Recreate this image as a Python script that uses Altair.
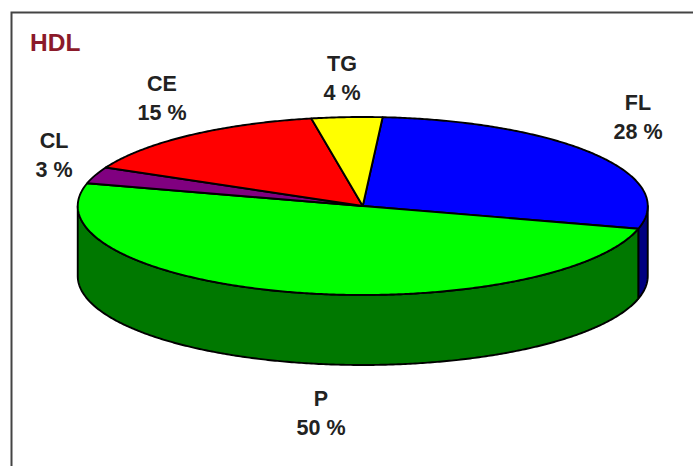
import numpy as np
import pandas as pd
import altair as alt

# Lipid composition of HDL, in percent, clockwise from the top of the pie
names = ["FL", "P", "CL", "CE", "TG"]
shares = [28, 50, 3, 15, 4]
top_colors = ["#0000ff", "#00ff00", "#800080", "#ff0000", "#ffff00"]
wall_colors = {"FL": "#000080", "P": "#007800"}

# Pie geometry in page units
CX, CY, RX, RY, DEPTH = 362.75, 206.0, 285.0, 89.0, 70.0
START_DEG = 86.0
W, H = 693, 466

x_scale = alt.Scale(domain=[0, W], range=[0, W], nice=False, zero=False)
y_scale = alt.Scale(domain=[0, H], range=[0, H], nice=False, zero=False)


def rim(a0, a1, dy=0.0):
    ts = np.radians(np.linspace(a0, a1, max(2, int(abs(a1 - a0) * 2) + 1)))
    return CX + RX * np.cos(ts), CY - RY * np.sin(ts) + dy


def outline(xs, ys, fill):
    xs = np.append(xs, xs[0])
    ys = np.append(ys, ys[0])
    df = pd.DataFrame({"x": xs, "y": ys, "i": np.arange(len(xs))})
    return (
        alt.Chart(df)
        .mark_line(fill=fill, stroke="#000000", strokeWidth=1.9, strokeJoin="round", clip=False)
        .encode(
            x=alt.X("x:Q", scale=x_scale, axis=None),
            y=alt.Y("y:Q", scale=y_scale, axis=None),
            order="i:Q",
        )
    )


layers = []

# Side walls, only the part facing the viewer
angle = START_DEG
edges = {}
for name, share in zip(names, shares):
    edges[name] = (angle, angle - share * 3.6)
    angle -= share * 3.6

seam = edges["FL"][1]
for name, a0, a1 in [("FL", seam, 0.0), ("P", seam, -180.0)]:
    ux, uy = rim(a0, a1)
    lx, ly = rim(a0, a1, DEPTH)
    layers.append(outline(np.r_[ux, lx[::-1]], np.r_[uy, ly[::-1]], wall_colors[name]))

# Top face wedges
for (name, color) in zip(names, top_colors):
    a0, a1 = edges[name]
    ux, uy = rim(a0, a1)
    layers.append(outline(np.r_[CX, ux], np.r_[CY, uy], color))

# Slice labels: name above percentage
label_x = [638, 321, 54, 162, 342]
label_y = [104, 400, 142, 85, 65]
LINE_GAP = 28.5
rows = []
for name, share, lx, ly in zip(names, shares, label_x, label_y):
    rows.append({"x": lx, "y": ly, "t": name})
    rows.append({"x": lx, "y": ly + LINE_GAP, "t": f"{share} %"})
layers.append(
    alt.Chart(pd.DataFrame(rows))
    .mark_text(font="Liberation Sans", fontWeight="bold", fontSize=21.5, color="#222222",
               align="center", baseline="middle")
    .encode(x=alt.X("x:Q", scale=x_scale, axis=None),
            y=alt.Y("y:Q", scale=y_scale, axis=None),
            text="t:N")
)

# Title
layers.append(
    alt.Chart(pd.DataFrame({"x": [30], "y": [44], "t": ["HDL"]}))
    .mark_text(font="Liberation Sans", fontWeight="bold", fontSize=24.5, color="#8b1a2a",
               align="left", baseline="middle")
    .encode(x=alt.X("x:Q", scale=x_scale, axis=None),
            y=alt.Y("y:Q", scale=y_scale, axis=None),
            text="t:N")
)

# Frame around the figure, running off the right and bottom of the page
frame = pd.DataFrame({"x": [W, 11.5, 11.5], "y": [12.5, 12.5, H], "i": [0, 1, 2]})
layers.append(
    alt.Chart(frame)
    .mark_line(stroke="#444444", strokeWidth=2)
    .encode(x=alt.X("x:Q", scale=x_scale, axis=None),
            y=alt.Y("y:Q", scale=y_scale, axis=None),
            order="i:Q")
)

chart = (
    alt.layer(*layers)
    .properties(width=W, height=H, padding=0, autosize=alt.AutoSizeParams(type="none"),
                background="#ffffff")
    .configure_view(stroke=None)
)
chart.save("out.html", embed_options={"renderer": "svg", "actions": False})
